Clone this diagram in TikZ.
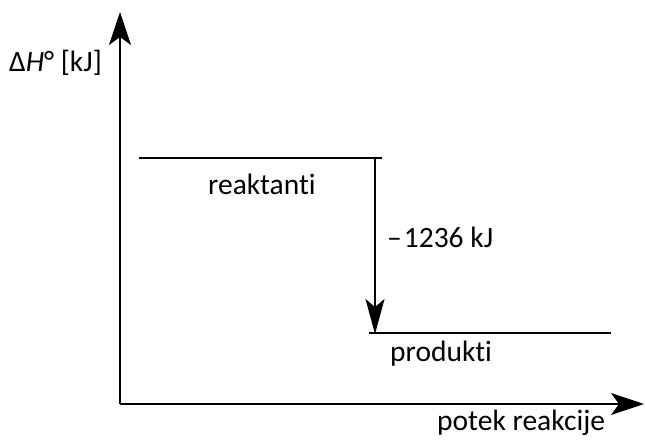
\documentclass[tikz,border=0pt]{standalone}
\usepackage{fontspec}
\setmainfont{Carlito}[Ligatures={NoCommon}]
\usetikzlibrary{arrows.meta}
\begin{document}
\begin{tikzpicture}[x=1pt,y=-1pt,
  lbl/.style={inner sep=0pt,font=\fontsize{29.5}{34}\selectfont},
  lvl/.style={line width=1.5pt},
  axis/.style={line width=1.5pt,-{Stealth[length=33pt,width=22pt,inset=8pt]}},
  dh/.style={line width=1.5pt,-{Stealth[length=35pt,width=19pt,inset=8pt]}}]
\useasboundingbox (0,0) rectangle (645,439);
\coordinate (O) at (120,404);
\coordinate (ytip) at (120,12);
\coordinate (xtip) at (644,404);
\draw[axis] (O) -- (ytip);
\draw[axis] (O) -- (xtip);
\coordinate (r1) at (139,158);
\coordinate (r2) at (382,158);
\coordinate (p1) at (369,333);
\coordinate (p2) at (611,333);
\draw[lvl] (r1) -- (r2);
\draw[lvl] (p1) -- (p2);
\coordinate (a1) at (375,158);
\coordinate (a2) at (375,334);
\draw[dh] (a1) -- (a2);
\node[lbl,anchor=west] (yl) at (9,63) {Δ\textit{H}° [kJ]};
\node[lbl,anchor=west] (re) at (208,184) {reaktanti};
\node[lbl,anchor=west] (dv) at (387,237) {–\hspace{2pt}1236 kJ};
\node[lbl,anchor=west] (pr) at (390,354) {produkti};
\node[lbl,anchor=west] (xl) at (437,423) {potek reakcije};
\end{tikzpicture}
\end{document}
